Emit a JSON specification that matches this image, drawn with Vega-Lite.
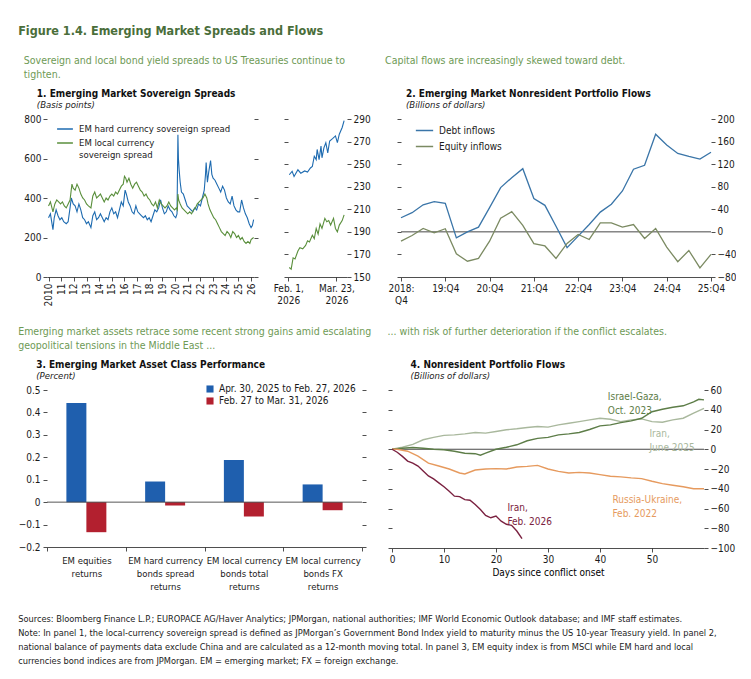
{
  "$schema": "https://vega.github.io/schema/vega-lite/v6.json",
  "padding": {"left": 18, "top": 24, "right": 0, "bottom": 0},
  "title": {"text": "Figure 1.4. Emerging Market Spreads and Flows", "anchor": "start", "fontSize": 12.5, "fontWeight": "bold", "color": "#4a6e3a", "offset": 19},
  "config": {
    "font": "Liberation Sans Narrow, Arial Narrow, DejaVu Sans Condensed, Roboto Condensed, Liberation Sans, sans-serif",
    "view": {"stroke": null},
    "axis": {"labelFontSize": 10, "labelColor": "#1a1a1a", "tickColor": "#222", "domainColor": "#222", "tickSize": 4, "labelPadding": 2, "domainWidth": 0.8, "tickWidth": 0.8, "grid": false, "labelOverlap": false},
    "legend": {"labelFontSize": 9.5, "labelColor": "#1a1a1a", "labelLimit": 250},
    "title": {"subtitleFontStyle": "italic"}
  },
  "datasets": {
    "spreads": [
      {"year":2010.00,"series":"EM hard currency sovereign spread","value":300},
      {"year":2010.15,"series":"EM hard currency sovereign spread","value":320},
      {"year":2010.35,"series":"EM hard currency sovereign spread","value":240},
      {"year":2010.45,"series":"EM hard currency sovereign spread","value":300},
      {"year":2010.60,"series":"EM hard currency sovereign spread","value":340},
      {"year":2010.75,"series":"EM hard currency sovereign spread","value":310},
      {"year":2010.90,"series":"EM hard currency sovereign spread","value":290},
      {"year":2011.05,"series":"EM hard currency sovereign spread","value":300},
      {"year":2011.20,"series":"EM hard currency sovereign spread","value":280},
      {"year":2011.40,"series":"EM hard currency sovereign spread","value":270},
      {"year":2011.55,"series":"EM hard currency sovereign spread","value":280},
      {"year":2011.70,"series":"EM hard currency sovereign spread","value":350},
      {"year":2011.80,"series":"EM hard currency sovereign spread","value":400},
      {"year":2011.95,"series":"EM hard currency sovereign spread","value":370},
      {"year":2012.10,"series":"EM hard currency sovereign spread","value":360},
      {"year":2012.25,"series":"EM hard currency sovereign spread","value":330},
      {"year":2012.40,"series":"EM hard currency sovereign spread","value":370},
      {"year":2012.55,"series":"EM hard currency sovereign spread","value":340},
      {"year":2012.70,"series":"EM hard currency sovereign spread","value":300},
      {"year":2012.85,"series":"EM hard currency sovereign spread","value":290},
      {"year":2013.00,"series":"EM hard currency sovereign spread","value":270},
      {"year":2013.15,"series":"EM hard currency sovereign spread","value":280},
      {"year":2013.35,"series":"EM hard currency sovereign spread","value":250},
      {"year":2013.50,"series":"EM hard currency sovereign spread","value":310},
      {"year":2013.65,"series":"EM hard currency sovereign spread","value":330},
      {"year":2013.80,"series":"EM hard currency sovereign spread","value":290},
      {"year":2013.95,"series":"EM hard currency sovereign spread","value":300},
      {"year":2014.10,"series":"EM hard currency sovereign spread","value":320},
      {"year":2014.25,"series":"EM hard currency sovereign spread","value":300},
      {"year":2014.40,"series":"EM hard currency sovereign spread","value":280},
      {"year":2014.55,"series":"EM hard currency sovereign spread","value":300},
      {"year":2014.70,"series":"EM hard currency sovereign spread","value":290},
      {"year":2014.85,"series":"EM hard currency sovereign spread","value":330},
      {"year":2015.00,"series":"EM hard currency sovereign spread","value":350},
      {"year":2015.15,"series":"EM hard currency sovereign spread","value":320},
      {"year":2015.30,"series":"EM hard currency sovereign spread","value":330},
      {"year":2015.45,"series":"EM hard currency sovereign spread","value":300},
      {"year":2015.60,"series":"EM hard currency sovereign spread","value":340},
      {"year":2015.75,"series":"EM hard currency sovereign spread","value":380},
      {"year":2015.90,"series":"EM hard currency sovereign spread","value":360},
      {"year":2016.05,"series":"EM hard currency sovereign spread","value":440},
      {"year":2016.15,"series":"EM hard currency sovereign spread","value":420},
      {"year":2016.30,"series":"EM hard currency sovereign spread","value":380},
      {"year":2016.45,"series":"EM hard currency sovereign spread","value":360},
      {"year":2016.60,"series":"EM hard currency sovereign spread","value":330},
      {"year":2016.75,"series":"EM hard currency sovereign spread","value":320},
      {"year":2016.90,"series":"EM hard currency sovereign spread","value":360},
      {"year":2017.05,"series":"EM hard currency sovereign spread","value":330},
      {"year":2017.20,"series":"EM hard currency sovereign spread","value":320},
      {"year":2017.35,"series":"EM hard currency sovereign spread","value":310},
      {"year":2017.50,"series":"EM hard currency sovereign spread","value":300},
      {"year":2017.65,"series":"EM hard currency sovereign spread","value":310},
      {"year":2017.80,"series":"EM hard currency sovereign spread","value":290},
      {"year":2017.95,"series":"EM hard currency sovereign spread","value":300},
      {"year":2018.10,"series":"EM hard currency sovereign spread","value":280},
      {"year":2018.25,"series":"EM hard currency sovereign spread","value":310},
      {"year":2018.40,"series":"EM hard currency sovereign spread","value":340},
      {"year":2018.55,"series":"EM hard currency sovereign spread","value":330},
      {"year":2018.70,"series":"EM hard currency sovereign spread","value":350},
      {"year":2018.85,"series":"EM hard currency sovereign spread","value":390},
      {"year":2019.00,"series":"EM hard currency sovereign spread","value":350},
      {"year":2019.15,"series":"EM hard currency sovereign spread","value":320},
      {"year":2019.30,"series":"EM hard currency sovereign spread","value":330},
      {"year":2019.45,"series":"EM hard currency sovereign spread","value":360},
      {"year":2019.60,"series":"EM hard currency sovereign spread","value":340},
      {"year":2019.75,"series":"EM hard currency sovereign spread","value":330},
      {"year":2019.90,"series":"EM hard currency sovereign spread","value":310},
      {"year":2020.05,"series":"EM hard currency sovereign spread","value":300},
      {"year":2020.15,"series":"EM hard currency sovereign spread","value":320},
      {"year":2020.22,"series":"EM hard currency sovereign spread","value":720},
      {"year":2020.26,"series":"EM hard currency sovereign spread","value":600},
      {"year":2020.32,"series":"EM hard currency sovereign spread","value":540},
      {"year":2020.40,"series":"EM hard currency sovereign spread","value":480},
      {"year":2020.50,"series":"EM hard currency sovereign spread","value":430},
      {"year":2020.65,"series":"EM hard currency sovereign spread","value":420},
      {"year":2020.80,"series":"EM hard currency sovereign spread","value":390},
      {"year":2020.95,"series":"EM hard currency sovereign spread","value":360},
      {"year":2021.10,"series":"EM hard currency sovereign spread","value":350},
      {"year":2021.25,"series":"EM hard currency sovereign spread","value":340},
      {"year":2021.40,"series":"EM hard currency sovereign spread","value":330},
      {"year":2021.55,"series":"EM hard currency sovereign spread","value":350},
      {"year":2021.70,"series":"EM hard currency sovereign spread","value":340},
      {"year":2021.85,"series":"EM hard currency sovereign spread","value":370},
      {"year":2022.00,"series":"EM hard currency sovereign spread","value":360},
      {"year":2022.15,"series":"EM hard currency sovereign spread","value":400},
      {"year":2022.30,"series":"EM hard currency sovereign spread","value":440},
      {"year":2022.40,"series":"EM hard currency sovereign spread","value":520},
      {"year":2022.45,"series":"EM hard currency sovereign spread","value":580},
      {"year":2022.55,"series":"EM hard currency sovereign spread","value":480},
      {"year":2022.65,"series":"EM hard currency sovereign spread","value":530},
      {"year":2022.80,"series":"EM hard currency sovereign spread","value":590},
      {"year":2022.90,"series":"EM hard currency sovereign spread","value":520},
      {"year":2023.00,"series":"EM hard currency sovereign spread","value":500},
      {"year":2023.15,"series":"EM hard currency sovereign spread","value":490},
      {"year":2023.30,"series":"EM hard currency sovereign spread","value":470},
      {"year":2023.45,"series":"EM hard currency sovereign spread","value":450},
      {"year":2023.60,"series":"EM hard currency sovereign spread","value":430},
      {"year":2023.75,"series":"EM hard currency sovereign spread","value":460},
      {"year":2023.90,"series":"EM hard currency sovereign spread","value":440},
      {"year":2024.05,"series":"EM hard currency sovereign spread","value":400},
      {"year":2024.20,"series":"EM hard currency sovereign spread","value":380},
      {"year":2024.35,"series":"EM hard currency sovereign spread","value":370},
      {"year":2024.50,"series":"EM hard currency sovereign spread","value":410},
      {"year":2024.65,"series":"EM hard currency sovereign spread","value":360},
      {"year":2024.80,"series":"EM hard currency sovereign spread","value":340},
      {"year":2024.95,"series":"EM hard currency sovereign spread","value":330},
      {"year":2025.10,"series":"EM hard currency sovereign spread","value":330},
      {"year":2025.25,"series":"EM hard currency sovereign spread","value":390},
      {"year":2025.40,"series":"EM hard currency sovereign spread","value":350},
      {"year":2025.55,"series":"EM hard currency sovereign spread","value":320},
      {"year":2025.70,"series":"EM hard currency sovereign spread","value":300},
      {"year":2025.85,"series":"EM hard currency sovereign spread","value":270},
      {"year":2026.00,"series":"EM hard currency sovereign spread","value":250},
      {"year":2026.10,"series":"EM hard currency sovereign spread","value":260},
      {"year":2026.20,"series":"EM hard currency sovereign spread","value":290},
      {"year":2010.00,"series":"EM local currency sovereign spread","value":360},
      {"year":2010.15,"series":"EM local currency sovereign spread","value":380},
      {"year":2010.35,"series":"EM local currency sovereign spread","value":330},
      {"year":2010.50,"series":"EM local currency sovereign spread","value":370},
      {"year":2010.65,"series":"EM local currency sovereign spread","value":390},
      {"year":2010.80,"series":"EM local currency sovereign spread","value":380},
      {"year":2010.95,"series":"EM local currency sovereign spread","value":370},
      {"year":2011.10,"series":"EM local currency sovereign spread","value":380},
      {"year":2011.25,"series":"EM local currency sovereign spread","value":360},
      {"year":2011.40,"series":"EM local currency sovereign spread","value":350},
      {"year":2011.55,"series":"EM local currency sovereign spread","value":370},
      {"year":2011.70,"series":"EM local currency sovereign spread","value":390},
      {"year":2011.85,"series":"EM local currency sovereign spread","value":470},
      {"year":2011.95,"series":"EM local currency sovereign spread","value":450},
      {"year":2012.10,"series":"EM local currency sovereign spread","value":440},
      {"year":2012.25,"series":"EM local currency sovereign spread","value":470},
      {"year":2012.40,"series":"EM local currency sovereign spread","value":450},
      {"year":2012.55,"series":"EM local currency sovereign spread","value":420},
      {"year":2012.70,"series":"EM local currency sovereign spread","value":400},
      {"year":2012.85,"series":"EM local currency sovereign spread","value":390},
      {"year":2013.00,"series":"EM local currency sovereign spread","value":370},
      {"year":2013.15,"series":"EM local currency sovereign spread","value":360},
      {"year":2013.35,"series":"EM local currency sovereign spread","value":350},
      {"year":2013.50,"series":"EM local currency sovereign spread","value":410},
      {"year":2013.65,"series":"EM local currency sovereign spread","value":430},
      {"year":2013.80,"series":"EM local currency sovereign spread","value":400},
      {"year":2013.95,"series":"EM local currency sovereign spread","value":410},
      {"year":2014.10,"series":"EM local currency sovereign spread","value":420},
      {"year":2014.25,"series":"EM local currency sovereign spread","value":400},
      {"year":2014.40,"series":"EM local currency sovereign spread","value":380},
      {"year":2014.55,"series":"EM local currency sovereign spread","value":400},
      {"year":2014.70,"series":"EM local currency sovereign spread","value":390},
      {"year":2014.85,"series":"EM local currency sovereign spread","value":410},
      {"year":2015.00,"series":"EM local currency sovereign spread","value":420},
      {"year":2015.15,"series":"EM local currency sovereign spread","value":410},
      {"year":2015.30,"series":"EM local currency sovereign spread","value":430},
      {"year":2015.45,"series":"EM local currency sovereign spread","value":420},
      {"year":2015.60,"series":"EM local currency sovereign spread","value":440},
      {"year":2015.75,"series":"EM local currency sovereign spread","value":460},
      {"year":2015.90,"series":"EM local currency sovereign spread","value":470},
      {"year":2016.00,"series":"EM local currency sovereign spread","value":510},
      {"year":2016.10,"series":"EM local currency sovereign spread","value":500},
      {"year":2016.20,"series":"EM local currency sovereign spread","value":480},
      {"year":2016.35,"series":"EM local currency sovereign spread","value":500},
      {"year":2016.50,"series":"EM local currency sovereign spread","value":470},
      {"year":2016.65,"series":"EM local currency sovereign spread","value":450},
      {"year":2016.80,"series":"EM local currency sovereign spread","value":470},
      {"year":2016.95,"series":"EM local currency sovereign spread","value":480},
      {"year":2017.10,"series":"EM local currency sovereign spread","value":460},
      {"year":2017.25,"series":"EM local currency sovereign spread","value":440},
      {"year":2017.40,"series":"EM local currency sovereign spread","value":430},
      {"year":2017.55,"series":"EM local currency sovereign spread","value":410},
      {"year":2017.70,"series":"EM local currency sovereign spread","value":420},
      {"year":2017.85,"series":"EM local currency sovereign spread","value":400},
      {"year":2018.00,"series":"EM local currency sovereign spread","value":390},
      {"year":2018.15,"series":"EM local currency sovereign spread","value":370},
      {"year":2018.30,"series":"EM local currency sovereign spread","value":360},
      {"year":2018.45,"series":"EM local currency sovereign spread","value":380},
      {"year":2018.60,"series":"EM local currency sovereign spread","value":350},
      {"year":2018.75,"series":"EM local currency sovereign spread","value":390},
      {"year":2018.90,"series":"EM local currency sovereign spread","value":370},
      {"year":2019.05,"series":"EM local currency sovereign spread","value":360},
      {"year":2019.20,"series":"EM local currency sovereign spread","value":350},
      {"year":2019.35,"series":"EM local currency sovereign spread","value":360},
      {"year":2019.50,"series":"EM local currency sovereign spread","value":380},
      {"year":2019.65,"series":"EM local currency sovereign spread","value":360},
      {"year":2019.80,"series":"EM local currency sovereign spread","value":350},
      {"year":2019.95,"series":"EM local currency sovereign spread","value":340},
      {"year":2020.10,"series":"EM local currency sovereign spread","value":350},
      {"year":2020.18,"series":"EM local currency sovereign spread","value":340},
      {"year":2020.22,"series":"EM local currency sovereign spread","value":420},
      {"year":2020.28,"series":"EM local currency sovereign spread","value":390},
      {"year":2020.40,"series":"EM local currency sovereign spread","value":370},
      {"year":2020.55,"series":"EM local currency sovereign spread","value":350},
      {"year":2020.70,"series":"EM local currency sovereign spread","value":340},
      {"year":2020.85,"series":"EM local currency sovereign spread","value":330},
      {"year":2021.00,"series":"EM local currency sovereign spread","value":320},
      {"year":2021.15,"series":"EM local currency sovereign spread","value":330},
      {"year":2021.30,"series":"EM local currency sovereign spread","value":320},
      {"year":2021.45,"series":"EM local currency sovereign spread","value":340},
      {"year":2021.60,"series":"EM local currency sovereign spread","value":350},
      {"year":2021.75,"series":"EM local currency sovereign spread","value":370},
      {"year":2021.90,"series":"EM local currency sovereign spread","value":380},
      {"year":2022.05,"series":"EM local currency sovereign spread","value":390},
      {"year":2022.20,"series":"EM local currency sovereign spread","value":400},
      {"year":2022.35,"series":"EM local currency sovereign spread","value":420},
      {"year":2022.50,"series":"EM local currency sovereign spread","value":400},
      {"year":2022.60,"series":"EM local currency sovereign spread","value":370},
      {"year":2022.75,"series":"EM local currency sovereign spread","value":340},
      {"year":2022.90,"series":"EM local currency sovereign spread","value":320},
      {"year":2023.05,"series":"EM local currency sovereign spread","value":300},
      {"year":2023.20,"series":"EM local currency sovereign spread","value":290},
      {"year":2023.35,"series":"EM local currency sovereign spread","value":270},
      {"year":2023.50,"series":"EM local currency sovereign spread","value":250},
      {"year":2023.65,"series":"EM local currency sovereign spread","value":230},
      {"year":2023.80,"series":"EM local currency sovereign spread","value":220},
      {"year":2023.95,"series":"EM local currency sovereign spread","value":210},
      {"year":2024.10,"series":"EM local currency sovereign spread","value":230},
      {"year":2024.25,"series":"EM local currency sovereign spread","value":220},
      {"year":2024.40,"series":"EM local currency sovereign spread","value":200},
      {"year":2024.55,"series":"EM local currency sovereign spread","value":230},
      {"year":2024.70,"series":"EM local currency sovereign spread","value":220},
      {"year":2024.85,"series":"EM local currency sovereign spread","value":200},
      {"year":2025.00,"series":"EM local currency sovereign spread","value":210},
      {"year":2025.15,"series":"EM local currency sovereign spread","value":190},
      {"year":2025.30,"series":"EM local currency sovereign spread","value":200},
      {"year":2025.45,"series":"EM local currency sovereign spread","value":180},
      {"year":2025.60,"series":"EM local currency sovereign spread","value":170},
      {"year":2025.75,"series":"EM local currency sovereign spread","value":180},
      {"year":2025.90,"series":"EM local currency sovereign spread","value":170},
      {"year":2026.00,"series":"EM local currency sovereign spread","value":190},
      {"year":2026.10,"series":"EM local currency sovereign spread","value":195},
      {"year":2026.20,"series":"EM local currency sovereign spread","value":200}
    ],
    "recent": [
      {"day":1,"series":"EM hard currency sovereign spread","value":240.6},
      {"day":4,"series":"EM hard currency sovereign spread","value":243.6},
      {"day":6,"series":"EM hard currency sovereign spread","value":239},
      {"day":10,"series":"EM hard currency sovereign spread","value":245},
      {"day":13,"series":"EM hard currency sovereign spread","value":242},
      {"day":17,"series":"EM hard currency sovereign spread","value":244},
      {"day":20,"series":"EM hard currency sovereign spread","value":243},
      {"day":23,"series":"EM hard currency sovereign spread","value":246.6},
      {"day":25,"series":"EM hard currency sovereign spread","value":248},
      {"day":27,"series":"EM hard currency sovereign spread","value":257},
      {"day":29,"series":"EM hard currency sovereign spread","value":254},
      {"day":30,"series":"EM hard currency sovereign spread","value":263},
      {"day":32,"series":"EM hard currency sovereign spread","value":254},
      {"day":34,"series":"EM hard currency sovereign spread","value":266},
      {"day":35,"series":"EM hard currency sovereign spread","value":255.6},
      {"day":37,"series":"EM hard currency sovereign spread","value":264.5},
      {"day":39,"series":"EM hard currency sovereign spread","value":269},
      {"day":41,"series":"EM hard currency sovereign spread","value":260},
      {"day":43,"series":"EM hard currency sovereign spread","value":270.5},
      {"day":46,"series":"EM hard currency sovereign spread","value":272.6},
      {"day":49,"series":"EM hard currency sovereign spread","value":275},
      {"day":51,"series":"EM hard currency sovereign spread","value":269},
      {"day":53,"series":"EM hard currency sovereign spread","value":276.5},
      {"day":56,"series":"EM hard currency sovereign spread","value":282.5},
      {"day":58,"series":"EM hard currency sovereign spread","value":288.5},
      {"day":1,"series":"EM local currency sovereign spread","value":158.4},
      {"day":3,"series":"EM local currency sovereign spread","value":156.9},
      {"day":5,"series":"EM local currency sovereign spread","value":167},
      {"day":7,"series":"EM local currency sovereign spread","value":166},
      {"day":10,"series":"EM local currency sovereign spread","value":173},
      {"day":12,"series":"EM local currency sovereign spread","value":176},
      {"day":15,"series":"EM local currency sovereign spread","value":175},
      {"day":18,"series":"EM local currency sovereign spread","value":178},
      {"day":20,"series":"EM local currency sovereign spread","value":182},
      {"day":22,"series":"EM local currency sovereign spread","value":181},
      {"day":25,"series":"EM local currency sovereign spread","value":187},
      {"day":27,"series":"EM local currency sovereign spread","value":184},
      {"day":29,"series":"EM local currency sovereign spread","value":193},
      {"day":31,"series":"EM local currency sovereign spread","value":188},
      {"day":33,"series":"EM local currency sovereign spread","value":197},
      {"day":35,"series":"EM local currency sovereign spread","value":193},
      {"day":38,"series":"EM local currency sovereign spread","value":202},
      {"day":40,"series":"EM local currency sovereign spread","value":199},
      {"day":42,"series":"EM local currency sovereign spread","value":200},
      {"day":44,"series":"EM local currency sovereign spread","value":196},
      {"day":47,"series":"EM local currency sovereign spread","value":202},
      {"day":49,"series":"EM local currency sovereign spread","value":193},
      {"day":51,"series":"EM local currency sovereign spread","value":190},
      {"day":53,"series":"EM local currency sovereign spread","value":196},
      {"day":56,"series":"EM local currency sovereign spread","value":200},
      {"day":58,"series":"EM local currency sovereign spread","value":205}
    ],
    "flows": [
      {"quarter":"2018:Q4","series":"Debt inflows","value":25},
      {"quarter":"2019:Q1","series":"Debt inflows","value":34},
      {"quarter":"2019:Q2","series":"Debt inflows","value":48},
      {"quarter":"2019:Q3","series":"Debt inflows","value":53.5},
      {"quarter":"2019:Q4","series":"Debt inflows","value":50.5},
      {"quarter":"2020:Q1","series":"Debt inflows","value":-10.6},
      {"quarter":"2020:Q2","series":"Debt inflows","value":0},
      {"quarter":"2020:Q3","series":"Debt inflows","value":8.4},
      {"quarter":"2020:Q4","series":"Debt inflows","value":43},
      {"quarter":"2021:Q1","series":"Debt inflows","value":78.4},
      {"quarter":"2021:Q2","series":"Debt inflows","value":96},
      {"quarter":"2021:Q3","series":"Debt inflows","value":112},
      {"quarter":"2021:Q4","series":"Debt inflows","value":59},
      {"quarter":"2022:Q1","series":"Debt inflows","value":47},
      {"quarter":"2022:Q2","series":"Debt inflows","value":10},
      {"quarter":"2022:Q3","series":"Debt inflows","value":-28},
      {"quarter":"2022:Q4","series":"Debt inflows","value":-7.6},
      {"quarter":"2023:Q1","series":"Debt inflows","value":13},
      {"quarter":"2023:Q2","series":"Debt inflows","value":35},
      {"quarter":"2023:Q3","series":"Debt inflows","value":49},
      {"quarter":"2023:Q4","series":"Debt inflows","value":72.5},
      {"quarter":"2024:Q1","series":"Debt inflows","value":111},
      {"quarter":"2024:Q2","series":"Debt inflows","value":118},
      {"quarter":"2024:Q3","series":"Debt inflows","value":173},
      {"quarter":"2024:Q4","series":"Debt inflows","value":154},
      {"quarter":"2025:Q1","series":"Debt inflows","value":139},
      {"quarter":"2025:Q2","series":"Debt inflows","value":133.6},
      {"quarter":"2025:Q3","series":"Debt inflows","value":129},
      {"quarter":"2025:Q4","series":"Debt inflows","value":141},
      {"quarter":"2018:Q4","series":"Equity inflows","value":-16.5},
      {"quarter":"2019:Q1","series":"Equity inflows","value":-6.4},
      {"quarter":"2019:Q2","series":"Equity inflows","value":6},
      {"quarter":"2019:Q3","series":"Equity inflows","value":-1.7},
      {"quarter":"2019:Q4","series":"Equity inflows","value":5.5},
      {"quarter":"2020:Q1","series":"Equity inflows","value":-39},
      {"quarter":"2020:Q2","series":"Equity inflows","value":-52},
      {"quarter":"2020:Q3","series":"Equity inflows","value":-47},
      {"quarter":"2020:Q4","series":"Equity inflows","value":-16.5},
      {"quarter":"2021:Q1","series":"Equity inflows","value":24},
      {"quarter":"2021:Q2","series":"Equity inflows","value":35.7},
      {"quarter":"2021:Q3","series":"Equity inflows","value":11.4},
      {"quarter":"2021:Q4","series":"Equity inflows","value":-21},
      {"quarter":"2022:Q1","series":"Equity inflows","value":-25},
      {"quarter":"2022:Q2","series":"Equity inflows","value":-47},
      {"quarter":"2022:Q3","series":"Equity inflows","value":-20.6},
      {"quarter":"2022:Q4","series":"Equity inflows","value":-4.6},
      {"quarter":"2023:Q1","series":"Equity inflows","value":-13.5},
      {"quarter":"2023:Q2","series":"Equity inflows","value":16},
      {"quarter":"2023:Q3","series":"Equity inflows","value":16},
      {"quarter":"2023:Q4","series":"Equity inflows","value":8.4},
      {"quarter":"2024:Q1","series":"Equity inflows","value":13},
      {"quarter":"2024:Q2","series":"Equity inflows","value":-11.7},
      {"quarter":"2024:Q3","series":"Equity inflows","value":6},
      {"quarter":"2024:Q4","series":"Equity inflows","value":-27},
      {"quarter":"2025:Q1","series":"Equity inflows","value":-53},
      {"quarter":"2025:Q2","series":"Equity inflows","value":-33},
      {"quarter":"2025:Q3","series":"Equity inflows","value":-64},
      {"quarter":"2025:Q4","series":"Equity inflows","value":-40}
    ],
    "perf": [
      {"asset":"EM equities\nreturns","period":"Apr. 30, 2025 to Feb. 27, 2026","value":0.442},
      {"asset":"EM equities\nreturns","period":"Feb. 27 to Mar. 31, 2026","value":-0.134},
      {"asset":"EM hard currency\nbonds spread\nreturns","period":"Apr. 30, 2025 to Feb. 27, 2026","value":0.092},
      {"asset":"EM hard currency\nbonds spread\nreturns","period":"Feb. 27 to Mar. 31, 2026","value":-0.015},
      {"asset":"EM local currency\nbonds total\nreturns","period":"Apr. 30, 2025 to Feb. 27, 2026","value":0.188},
      {"asset":"EM local currency\nbonds total\nreturns","period":"Feb. 27 to Mar. 31, 2026","value":-0.064},
      {"asset":"EM local currency\nbonds FX\nreturns","period":"Apr. 30, 2025 to Feb. 27, 2026","value":0.079},
      {"asset":"EM local currency\nbonds FX\nreturns","period":"Feb. 27 to Mar. 31, 2026","value":-0.036}
    ],
    "conflicts": [
      {"day":0,"series":"Iran, June 2025","value":0},
      {"day":2,"series":"Iran, June 2025","value":2},
      {"day":4,"series":"Iran, June 2025","value":5},
      {"day":6,"series":"Iran, June 2025","value":9.6},
      {"day":8,"series":"Iran, June 2025","value":12},
      {"day":10,"series":"Iran, June 2025","value":14},
      {"day":12,"series":"Iran, June 2025","value":14.6},
      {"day":14,"series":"Iran, June 2025","value":15.6},
      {"day":16,"series":"Iran, June 2025","value":17},
      {"day":18,"series":"Iran, June 2025","value":16.3},
      {"day":20,"series":"Iran, June 2025","value":18},
      {"day":22,"series":"Iran, June 2025","value":19.7},
      {"day":24,"series":"Iran, June 2025","value":20.7},
      {"day":26,"series":"Iran, June 2025","value":22},
      {"day":28,"series":"Iran, June 2025","value":23},
      {"day":30,"series":"Iran, June 2025","value":22.4},
      {"day":32,"series":"Iran, June 2025","value":24.7},
      {"day":34,"series":"Iran, June 2025","value":26.3},
      {"day":36,"series":"Iran, June 2025","value":28},
      {"day":38,"series":"Iran, June 2025","value":29.7},
      {"day":40,"series":"Iran, June 2025","value":31.4},
      {"day":42,"series":"Iran, June 2025","value":30.4},
      {"day":44,"series":"Iran, June 2025","value":28},
      {"day":46,"series":"Iran, June 2025","value":29.7},
      {"day":48,"series":"Iran, June 2025","value":30.8},
      {"day":50,"series":"Iran, June 2025","value":28},
      {"day":52,"series":"Iran, June 2025","value":27.4},
      {"day":54,"series":"Iran, June 2025","value":29.7},
      {"day":56,"series":"Iran, June 2025","value":31.4},
      {"day":58,"series":"Iran, June 2025","value":36.5},
      {"day":60,"series":"Iran, June 2025","value":41.5},
      {"day":0,"series":"Israel-Gaza, Oct. 2023","value":0},
      {"day":2,"series":"Israel-Gaza, Oct. 2023","value":1},
      {"day":4,"series":"Israel-Gaza, Oct. 2023","value":1.8},
      {"day":6,"series":"Israel-Gaza, Oct. 2023","value":1},
      {"day":8,"series":"Israel-Gaza, Oct. 2023","value":0},
      {"day":10,"series":"Israel-Gaza, Oct. 2023","value":-0.5},
      {"day":12,"series":"Israel-Gaza, Oct. 2023","value":-2},
      {"day":14,"series":"Israel-Gaza, Oct. 2023","value":-4},
      {"day":16,"series":"Israel-Gaza, Oct. 2023","value":-4.5},
      {"day":17,"series":"Israel-Gaza, Oct. 2023","value":-6},
      {"day":18,"series":"Israel-Gaza, Oct. 2023","value":-4},
      {"day":20,"series":"Israel-Gaza, Oct. 2023","value":0},
      {"day":22,"series":"Israel-Gaza, Oct. 2023","value":2},
      {"day":24,"series":"Israel-Gaza, Oct. 2023","value":4.5},
      {"day":26,"series":"Israel-Gaza, Oct. 2023","value":8.6},
      {"day":28,"series":"Israel-Gaza, Oct. 2023","value":11},
      {"day":30,"series":"Israel-Gaza, Oct. 2023","value":12},
      {"day":32,"series":"Israel-Gaza, Oct. 2023","value":14.6},
      {"day":34,"series":"Israel-Gaza, Oct. 2023","value":15.6},
      {"day":36,"series":"Israel-Gaza, Oct. 2023","value":17},
      {"day":38,"series":"Israel-Gaza, Oct. 2023","value":20},
      {"day":40,"series":"Israel-Gaza, Oct. 2023","value":23.7},
      {"day":42,"series":"Israel-Gaza, Oct. 2023","value":24.7},
      {"day":44,"series":"Israel-Gaza, Oct. 2023","value":27},
      {"day":46,"series":"Israel-Gaza, Oct. 2023","value":28.7},
      {"day":48,"series":"Israel-Gaza, Oct. 2023","value":31.4},
      {"day":50,"series":"Israel-Gaza, Oct. 2023","value":38},
      {"day":52,"series":"Israel-Gaza, Oct. 2023","value":40.5},
      {"day":54,"series":"Israel-Gaza, Oct. 2023","value":42.5},
      {"day":56,"series":"Israel-Gaza, Oct. 2023","value":44},
      {"day":58,"series":"Israel-Gaza, Oct. 2023","value":48},
      {"day":59,"series":"Israel-Gaza, Oct. 2023","value":50.6},
      {"day":60,"series":"Israel-Gaza, Oct. 2023","value":50},
      {"day":0,"series":"Russia-Ukraine, Feb. 2022","value":0},
      {"day":1,"series":"Russia-Ukraine, Feb. 2022","value":0},
      {"day":3,"series":"Russia-Ukraine, Feb. 2022","value":-2},
      {"day":5,"series":"Russia-Ukraine, Feb. 2022","value":-7},
      {"day":7,"series":"Russia-Ukraine, Feb. 2022","value":-14},
      {"day":9,"series":"Russia-Ukraine, Feb. 2022","value":-17},
      {"day":11,"series":"Russia-Ukraine, Feb. 2022","value":-20},
      {"day":13,"series":"Russia-Ukraine, Feb. 2022","value":-24},
      {"day":14,"series":"Russia-Ukraine, Feb. 2022","value":-25},
      {"day":16,"series":"Russia-Ukraine, Feb. 2022","value":-21},
      {"day":18,"series":"Russia-Ukraine, Feb. 2022","value":-20},
      {"day":20,"series":"Russia-Ukraine, Feb. 2022","value":-19.6},
      {"day":22,"series":"Russia-Ukraine, Feb. 2022","value":-20},
      {"day":24,"series":"Russia-Ukraine, Feb. 2022","value":-18},
      {"day":26,"series":"Russia-Ukraine, Feb. 2022","value":-17.3},
      {"day":28,"series":"Russia-Ukraine, Feb. 2022","value":-16.3},
      {"day":30,"series":"Russia-Ukraine, Feb. 2022","value":-20},
      {"day":32,"series":"Russia-Ukraine, Feb. 2022","value":-22.4},
      {"day":34,"series":"Russia-Ukraine, Feb. 2022","value":-24},
      {"day":36,"series":"Russia-Ukraine, Feb. 2022","value":-23.4},
      {"day":38,"series":"Russia-Ukraine, Feb. 2022","value":-24},
      {"day":40,"series":"Russia-Ukraine, Feb. 2022","value":-25.7},
      {"day":42,"series":"Russia-Ukraine, Feb. 2022","value":-27.4},
      {"day":44,"series":"Russia-Ukraine, Feb. 2022","value":-28},
      {"day":46,"series":"Russia-Ukraine, Feb. 2022","value":-29},
      {"day":48,"series":"Russia-Ukraine, Feb. 2022","value":-29.7},
      {"day":50,"series":"Russia-Ukraine, Feb. 2022","value":-32.4},
      {"day":52,"series":"Russia-Ukraine, Feb. 2022","value":-34.8},
      {"day":54,"series":"Russia-Ukraine, Feb. 2022","value":-36.5},
      {"day":56,"series":"Russia-Ukraine, Feb. 2022","value":-38},
      {"day":58,"series":"Russia-Ukraine, Feb. 2022","value":-40},
      {"day":60,"series":"Russia-Ukraine, Feb. 2022","value":-40},
      {"day":0,"series":"Iran, Feb. 2026","value":0},
      {"day":1,"series":"Iran, Feb. 2026","value":-3},
      {"day":2,"series":"Iran, Feb. 2026","value":-7.2},
      {"day":3,"series":"Iran, Feb. 2026","value":-12},
      {"day":4,"series":"Iran, Feb. 2026","value":-14},
      {"day":5,"series":"Iran, Feb. 2026","value":-17},
      {"day":6,"series":"Iran, Feb. 2026","value":-22},
      {"day":7,"series":"Iran, Feb. 2026","value":-27},
      {"day":8,"series":"Iran, Feb. 2026","value":-30},
      {"day":9,"series":"Iran, Feb. 2026","value":-34},
      {"day":10,"series":"Iran, Feb. 2026","value":-38},
      {"day":11,"series":"Iran, Feb. 2026","value":-42.5},
      {"day":12,"series":"Iran, Feb. 2026","value":-47.5},
      {"day":13,"series":"Iran, Feb. 2026","value":-48},
      {"day":14,"series":"Iran, Feb. 2026","value":-51},
      {"day":15,"series":"Iran, Feb. 2026","value":-51.6},
      {"day":16,"series":"Iran, Feb. 2026","value":-56},
      {"day":17,"series":"Iran, Feb. 2026","value":-61},
      {"day":18,"series":"Iran, Feb. 2026","value":-67},
      {"day":19,"series":"Iran, Feb. 2026","value":-69.4},
      {"day":20,"series":"Iran, Feb. 2026","value":-67.7},
      {"day":21,"series":"Iran, Feb. 2026","value":-72.8},
      {"day":22,"series":"Iran, Feb. 2026","value":-76},
      {"day":23,"series":"Iran, Feb. 2026","value":-77},
      {"day":24,"series":"Iran, Feb. 2026","value":-82.8},
      {"day":25,"series":"Iran, Feb. 2026","value":-90.6}
    ],
    "conflictLabels": [
      {"day":41.5,"value":52.9,"series":"Israel-Gaza, Oct. 2023","label":"Israel-Gaza,\nOct. 2023"},
      {"day":49.5,"value":15.8,"series":"Iran, June 2025","label":"Iran,\nJune 2025"},
      {"day":42.4,"value":-50.9,"series":"Russia-Ukraine, Feb. 2022","label":"Russia-Ukraine,\nFeb. 2022"},
      {"day":22.2,"value":-59.8,"series":"Iran, Feb. 2026","label":"Iran,\nFeb. 2026"}
    ]
  },
  "vconcat": [
    {
      "title": {"text": ["Sources: Bloomberg Finance L.P.; EUROPACE AG/Haver Analytics; JPMorgan, national authorities; IMF World Economic Outlook database; and IMF staff estimates.", "Note: In panel 1, the local-currency sovereign spread is defined as JPMorgan’s Government Bond Index yield to maturity minus the US 10-year Treasury yield. In panel 2,", "national balance of payments data exclude China and are calculated as a 12-month moving total. In panel 3, EM equity index is from MSCI while EM hard and local", "currencies bond indices are from JPMorgan. EM = emerging market; FX = foreign exchange."], "orient": "bottom", "anchor": "start", "fontSize": 9.2, "fontWeight": "normal", "color": "#222", "lineHeight": 14, "offset": 24},
      "resolve": {"scale": {"color": "independent"}, "legend": {"color": "independent"}},
      "columns": 1,
      "align": "none",
      "spacing": 21,
      "concat": [
        {
          "hconcat": [
            {
              "title": {"text": ["Sovereign and local bond yield spreads to US Treasuries continue to", "tighten."], "anchor": "start", "fontSize": 10.5, "fontWeight": "normal", "color": "#6e9a55", "lineHeight": 14, "offset": 8},
              "vconcat": [
                {
                  "title": {"text": "1. Emerging Market Sovereign Spreads", "subtitle": "\u00a0\u00a0\u00a0\u00a0\u00a0\u00a0(Basis points)", "anchor": "start", "dx": 13, "fontSize": 10, "fontWeight": "bold", "color": "#111", "subtitleFontSize": 9.5, "subtitleColor": "#222", "subtitlePadding": 1, "offset": 5},
                  "spacing": 14,
                  "hconcat": [
                    {
                      "width": 207, "height": 158,
                      "data": {"name": "spreads"},
                      "layer": [
                        {
                          "transform": [{"filter": "datum.series == 'EM hard currency sovereign spread'"}],
                          "mark": {"type": "line", "strokeWidth": 1.1},
                          "encoding": {
                            "x": {"field": "year", "type": "quantitative", "scale": {"domain": [2009.88, 2026.23], "nice": false, "zero": false}, "axis": {"values": [2010,2011,2012,2013,2014,2015,2016,2017,2018,2019,2020,2021,2022,2023,2024,2025,2026], "labelExpr": "datum.value == 2010 ? '2010' : substring(toString(datum.value), 2, 4)", "labelAngle": 270, "title": null}},
                            "y": {"field": "value", "type": "quantitative", "scale": {"domain": [0, 800], "nice": false}, "axis": {"orient": "left", "values": [0,200,400,600,800], "domain": false, "title": null}},
                            "color": {"field": "series", "type": "nominal", "scale": {"domain": ["EM hard currency sovereign spread", "EM local currency sovereign spread"], "range": ["#1e6bb0", "#5a8f3c"]}, "legend": {"title": null, "orient": "none", "legendX": 9, "legendY": 1, "symbolType": "stroke", "symbolSize": 250, "symbolStrokeWidth": 1.5, "labelOffset": 5, "rowPadding": 0, "labelExpr": "datum.label == 'EM local currency sovereign spread' ? ['EM local currency', 'sovereign spread'] : datum.label"}}
                          }
                        },
                        {
                          "transform": [{"filter": "datum.series == 'EM local currency sovereign spread'"}],
                          "mark": {"type": "line", "strokeWidth": 1.1},
                          "encoding": {
                            "x": {"field": "year", "type": "quantitative", "scale": {"domain": [2009.88, 2026.23], "nice": false, "zero": false}, "axis": {"values": [2010,2011,2012,2013,2014,2015,2016,2017,2018,2019,2020,2021,2022,2023,2024,2025,2026], "labelExpr": "datum.value == 2010 ? '2010' : substring(toString(datum.value), 2, 4)", "labelAngle": 270, "title": null}},
                            "y": {"field": "value", "type": "quantitative", "scale": {"domain": [0, 800], "nice": false}, "axis": {"orient": "right", "values": [0,200,400,600,800], "labels": false, "domain": false, "title": null}},
                            "color": {"field": "series", "type": "nominal", "scale": {"domain": ["EM hard currency sovereign spread", "EM local currency sovereign spread"], "range": ["#1e6bb0", "#5a8f3c"]}}
                          }
                        }
                      ],
                      "resolve": {"scale": {"y": "independent"}}
                    },
                    {
                      "width": 59, "height": 158,
                      "data": {"name": "recent"},
                      "layer": [
                        {
                          "transform": [{"filter": "datum.series == 'EM hard currency sovereign spread'"}],
                          "mark": {"type": "line", "strokeWidth": 1.1},
                          "encoding": {
                            "x": {"field": "day", "type": "quantitative", "scale": {"domain": [-0.3, 61], "nice": false, "zero": false}, "axis": {"values": [0, 50], "labelExpr": "datum.value == 0 ? ['Feb. 1,', '2026'] : ['Mar. 23,', '2026']", "labelAngle": 0, "labelFlush": false, "title": null}},
                            "y": {"field": "value", "type": "quantitative", "scale": {"domain": [150, 290], "nice": false, "zero": false}, "axis": {"orient": "left", "values": [150,170,190,210,230,250,270,290], "labels": false, "domain": false, "title": null}},
                            "color": {"field": "series", "type": "nominal", "scale": {"domain": ["EM hard currency sovereign spread", "EM local currency sovereign spread"], "range": ["#1e6bb0", "#5a8f3c"]}, "legend": null}
                          }
                        },
                        {
                          "transform": [{"filter": "datum.series == 'EM local currency sovereign spread'"}],
                          "mark": {"type": "line", "strokeWidth": 1.1},
                          "encoding": {
                            "x": {"field": "day", "type": "quantitative", "scale": {"domain": [-0.3, 61], "nice": false, "zero": false}, "axis": {"values": [0, 50], "labelExpr": "datum.value == 0 ? ['Feb. 1,', '2026'] : ['Mar. 23,', '2026']", "labelAngle": 0, "labelFlush": false, "title": null}},
                            "y": {"field": "value", "type": "quantitative", "scale": {"domain": [150, 290], "nice": false, "zero": false}, "axis": {"orient": "right", "values": [150,170,190,210,230,250,270,290], "domain": false, "title": null, "labelOverlap": false}},
                            "color": {"field": "series", "type": "nominal", "scale": {"domain": ["EM hard currency sovereign spread", "EM local currency sovereign spread"], "range": ["#1e6bb0", "#5a8f3c"]}, "legend": null}
                          }
                        }
                      ],
                      "resolve": {"scale": {"y": "independent"}}
                    }
                  ]
                }
              ]
            },
            {
              "title": {"text": ["Capital flows are increasingly skewed toward debt.", "\u00a0"], "anchor": "start", "dx": -3, "fontSize": 10.5, "fontWeight": "normal", "color": "#6e9a55", "lineHeight": 14, "offset": 8},
              "vconcat": [
                {
                  "title": {"text": "2. Emerging Market Nonresident Portfolio Flows", "subtitle": "\u00a0\u00a0(Billions of dollars)", "anchor": "start", "dx": 18, "fontSize": 10, "fontWeight": "bold", "color": "#111", "subtitleFontSize": 9.5, "subtitleColor": "#222", "subtitlePadding": 1, "offset": 5},
                  "width": 310, "height": 158,
                  "layer": [
                    {
                      "data": {"values": [{"value": 0}]},
                      "mark": {"type": "rule", "color": "#333", "strokeWidth": 0.9},
                      "encoding": {"y": {"field": "value", "type": "quantitative", "scale": {"domain": [-80, 200], "nice": false}, "axis": {"orient": "left", "values": [-80,-40,0,40,80,120,160,200], "labels": false, "domain": false, "title": null}}}
                    },
                    {
                      "data": {"name": "flows"},
                      "mark": {"type": "line", "strokeWidth": 1.3},
                      "encoding": {
                        "x": {"field": "quarter", "type": "ordinal", "scale": {"type": "point", "padding": 0}, "axis": {"values": ["2018:Q4","2019:Q4","2020:Q4","2021:Q4","2022:Q4","2023:Q4","2024:Q4","2025:Q4"], "labelExpr": "datum.value == '2018:Q4' ? ['2018:', 'Q4'] : substring(datum.value, 2)", "labelAngle": 0, "title": null}},
                        "y": {"field": "value", "type": "quantitative", "scale": {"domain": [-80, 200], "nice": false}, "axis": {"orient": "right", "values": [-80,-40,0,40,80,120,160,200], "domain": false, "title": null, "labelOverlap": false}},
                        "color": {"field": "series", "type": "nominal", "scale": {"domain": ["Debt inflows", "Equity inflows"], "range": ["#3a75a8", "#7b8a62"]}, "legend": {"title": null, "orient": "none", "legendX": 14, "legendY": 2, "symbolType": "stroke", "symbolSize": 300, "symbolStrokeWidth": 1.5, "labelOffset": 5, "rowPadding": 1, "labelFontSize": 10}}
                      }
                    }
                  ],
                  "resolve": {"scale": {"y": "independent"}}
                }
              ]
            }
          ],
          "spacing": 14,
          "resolve": {"scale": {"color": "independent"}, "legend": {"color": "independent"}}
        },
        {
          "hconcat": [
            {
              "title": {"text": ["Emerging market assets retrace some recent strong gains amid escalating", "geopolitical tensions in the Middle East ..."], "anchor": "start", "fontSize": 10.5, "fontWeight": "normal", "color": "#6e9a55", "lineHeight": 14, "offset": 8},
              "vconcat": [
                {
                  "title": {"text": "3. Emerging Market Asset Class Performance", "subtitle": "\u00a0\u00a0\u00a0\u00a0\u00a0\u00a0(Percent)", "anchor": "start", "dx": 18, "fontSize": 10, "fontWeight": "bold", "color": "#111", "subtitleFontSize": 9.5, "subtitleColor": "#222", "subtitlePadding": 1, "offset": 5},
                  "width": 315, "height": 157,
                  "layer": [
                    {
                      "data": {"name": "perf"},
                      "mark": {"type": "bar"},
                      "encoding": {
                        "x": {"field": "asset", "type": "nominal", "sort": null, "scale": {"paddingInner": 0, "paddingOuter": 0}, "axis": {"tickBand": "extent", "labelExpr": "split(datum.label, '\\n')", "labelAngle": 0, "title": null, "labelPadding": 4, "labelLineHeight": 13, "labelFontSize": 9.5}},
                        "xOffset": {"field": "period", "type": "nominal", "sort": null, "scale": {"paddingOuter": 0.97, "paddingInner": 0}},
                        "y": {"field": "value", "type": "quantitative", "scale": {"domain": [-0.2, 0.5], "nice": false}, "axis": {"orient": "left", "values": [-0.2,-0.1,0,0.1,0.2,0.3,0.4,0.5], "labelExpr": "datum.value == 0 ? '0' : format(datum.value, '.1f')", "domain": false, "title": null, "labelPadding": 3, "labelOverlap": false}},
                        "color": {"field": "period", "type": "nominal", "sort": null, "scale": {"domain": ["Apr. 30, 2025 to Feb. 27, 2026", "Feb. 27 to Mar. 31, 2026"], "range": ["#1f5fae", "#b3202f"]}, "legend": {"title": null, "orient": "none", "legendX": 158, "legendY": -6, "symbolType": "square", "symbolSize": 50, "labelFontSize": 10, "rowPadding": 2, "labelOffset": 4}}
                      }
                    },
                    {
                      "data": {"values": [{"value": 0}]},
                      "mark": {"type": "rule", "color": "#444", "strokeWidth": 0.9},
                      "encoding": {"y": {"field": "value", "type": "quantitative", "scale": {"domain": [-0.2, 0.5], "nice": false}, "axis": {"orient": "right", "values": [-0.2,-0.1,0,0.1,0.2,0.3,0.4,0.5], "labels": false, "domain": false, "title": null}}}
                    }
                  ],
                  "resolve": {"scale": {"y": "independent"}}
                }
              ]
            },
            {
              "title": {"text": ["... with risk of further deterioration if the conflict escalates.", "\u00a0"], "anchor": "start", "fontSize": 10.5, "fontWeight": "normal", "color": "#6e9a55", "lineHeight": 14, "offset": 8},
              "vconcat": [
                {
                  "title": {"text": "4. Nonresident Portfolio Flows", "subtitle": "\u00a0\u00a0(Billions of dollars)", "anchor": "start", "dx": 23, "fontSize": 10, "fontWeight": "bold", "color": "#111", "subtitleFontSize": 9.5, "subtitleColor": "#222", "subtitlePadding": 1, "offset": 5},
                  "width": 312, "height": 158,
                  "layer": [
                    {
                      "data": {"values": [{"value": 0}]},
                      "mark": {"type": "rule", "color": "#333", "strokeWidth": 0.9},
                      "encoding": {"y": {"field": "value", "type": "quantitative", "scale": {"domain": [-100, 60], "nice": false}, "axis": {"orient": "left", "values": [-100,-80,-60,-40,-20,0,20,40,60], "labels": false, "domain": false, "title": null}}}
                    },
                    {
                      "layer": [
                        {
                          "data": {"name": "conflicts"},
                          "mark": {"type": "line", "strokeWidth": 1.4},
                          "encoding": {
                            "x": {"field": "day", "type": "quantitative", "scale": {"domain": [0, 60], "nice": false}, "axis": {"values": [0,10,20,30,40,50], "labelFlush": false, "labelAngle": 0, "title": "Days since conflict onset", "titleFontWeight": "normal", "titleFontSize": 10, "titlePadding": 3}},
                            "y": {"field": "value", "type": "quantitative", "scale": {"domain": [-100, 60], "nice": false}, "axis": {"orient": "right", "values": [-100,-80,-60,-40,-20,0,20,40,60], "domain": false, "title": null, "labelOverlap": false}},
                            "color": {"field": "series", "type": "nominal", "scale": {"domain": ["Israel-Gaza, Oct. 2023", "Iran, June 2025", "Russia-Ukraine, Feb. 2022", "Iran, Feb. 2026"], "range": ["#5d7d48", "#a9b89d", "#e69a5e", "#7a2140"]}, "legend": null}
                          }
                        },
                        {
                          "data": {"name": "conflictLabels"},
                          "mark": {"type": "text", "align": "left", "baseline": "middle", "lineBreak": "\n", "fontSize": 10, "lineHeight": 14},
                          "encoding": {
                            "x": {"field": "day", "type": "quantitative"},
                            "y": {"field": "value", "type": "quantitative", "axis": {"orient": "right", "values": [-100,-80,-60,-40,-20,0,20,40,60], "domain": false, "title": null, "labelOverlap": false}},
                            "text": {"field": "label"},
                            "color": {"field": "series", "type": "nominal", "legend": null}
                          }
                        }
                      ]
                    }
                  ],
                  "resolve": {"scale": {"y": "independent"}}
                }
              ]
            }
          ],
          "spacing": 15,
          "resolve": {"scale": {"color": "independent"}, "legend": {"color": "independent"}}
        }
      ]
    }
  ]
}
